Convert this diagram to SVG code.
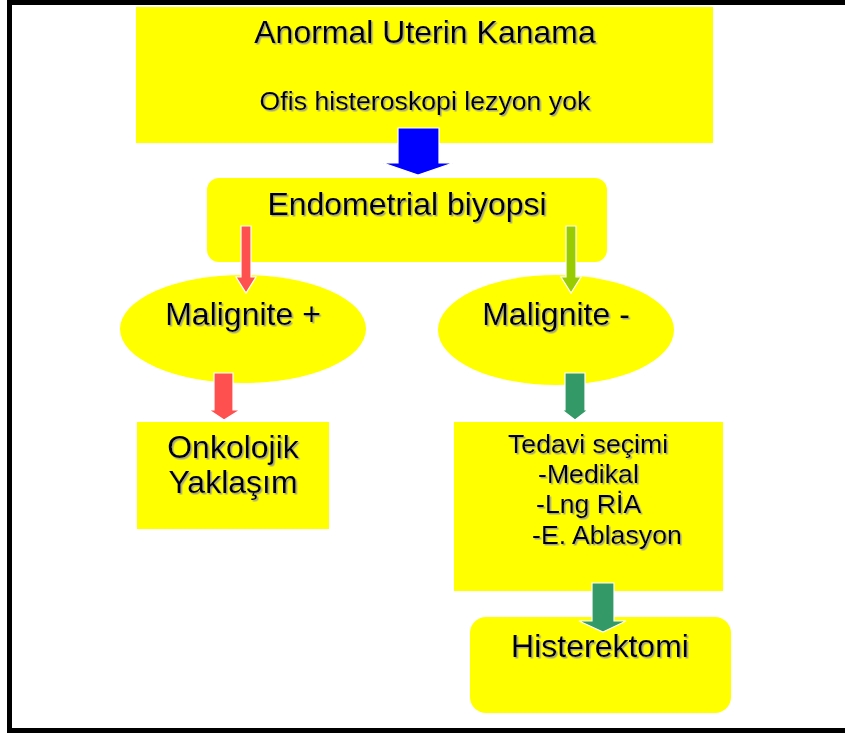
<svg xmlns="http://www.w3.org/2000/svg" width="845" height="733" viewBox="0 0 845 733">
<defs>
<style>
.box{fill:#FFFF00}
.t{font-family:"Liberation Sans",Arial,sans-serif;fill:#000;filter:url(#sh)}
.big{font-size:32px}
.mid{font-size:26.7px}
.c{text-anchor:middle}
.arr{stroke:#FFFFFF;stroke-width:1.2}
</style>
<filter id="sh" x="-5%" y="-20%" width="110%" height="140%">
<feDropShadow dx="1.5" dy="1.5" stdDeviation="0.3" flood-color="#999999" flood-opacity="0.9"/>
</filter>
</defs>
<rect x="0" y="0" width="845" height="733" fill="#FFFFFF"/>
<rect x="9.5" y="2.5" width="850" height="728" fill="none" stroke="#000" stroke-width="5"/>

<g id="n-aub">
<rect class="box" x="136" y="7" width="577" height="136"/>
<text class="t big c" x="425" y="43">Anormal Uterin Kanama</text>
<text class="t mid c" x="425" y="110">Ofis histeroskopi lezyon yok</text>
</g>
<g id="n-biopsy">
<rect class="box" x="207" y="178" width="400" height="84" rx="12"/>
<text class="t big c" x="407" y="215">Endometrial biyopsi</text>
</g>
<g id="n-malpos">
<ellipse class="box" cx="243" cy="329" rx="123" ry="54"/>
<text class="t big c" x="243" y="325">Malignite +</text>
</g>
<g id="n-malneg">
<ellipse class="box" cx="556" cy="330" rx="118" ry="55"/>
<text class="t big c" x="556" y="325">Malignite -</text>
</g>
<g id="n-onko">
<rect class="box" x="137" y="422" width="192" height="107"/>
<text class="t big c" x="233" y="458">Onkolojik</text>
<text class="t big c" x="233" y="493">Yaklaşım</text>
</g>
<g id="n-tedavi">
<rect class="box" x="454" y="422" width="269" height="169"/>
<text class="t mid" x="508" y="453">Tedavi seçimi</text>
<text class="t mid" x="538" y="483">-Medikal</text>
<text class="t mid" x="536" y="513">-Lng RİA</text>
<text class="t mid" x="532" y="544">-E. Ablasyon</text>
</g>
<g id="n-hister">
<rect class="box" x="470" y="617" width="261" height="96" rx="16"/>
<text class="t big c" x="600" y="657">Histerektomi</text>
</g>

<g id="connectors">
<polygon class="arr" fill="#0000FF" points="398,128 439,128 439,163 453,163 418,175 383,163 398,163"/>
<polygon class="arr" fill="#FF5050" points="241,226 251,226 251,277 256,277 246,293 236,277 241,277"/>
<polygon class="arr" fill="#99CC00" points="566,226 576,226 576,277 581,277 571,293 561,277 566,277"/>
<polygon class="arr" fill="#FF5050" points="214,373 233,373 233,410 240,410 224,420 209,410 214,410"/>
<polygon class="arr" fill="#339966" points="565,373 585,373 585,410 588,410 575,420 562,410 565,410"/>
<polygon class="arr" fill="#339966" points="592,583 614,583 614,621 626,621 603,632 579,621 592,621"/>
</g>
</svg>
